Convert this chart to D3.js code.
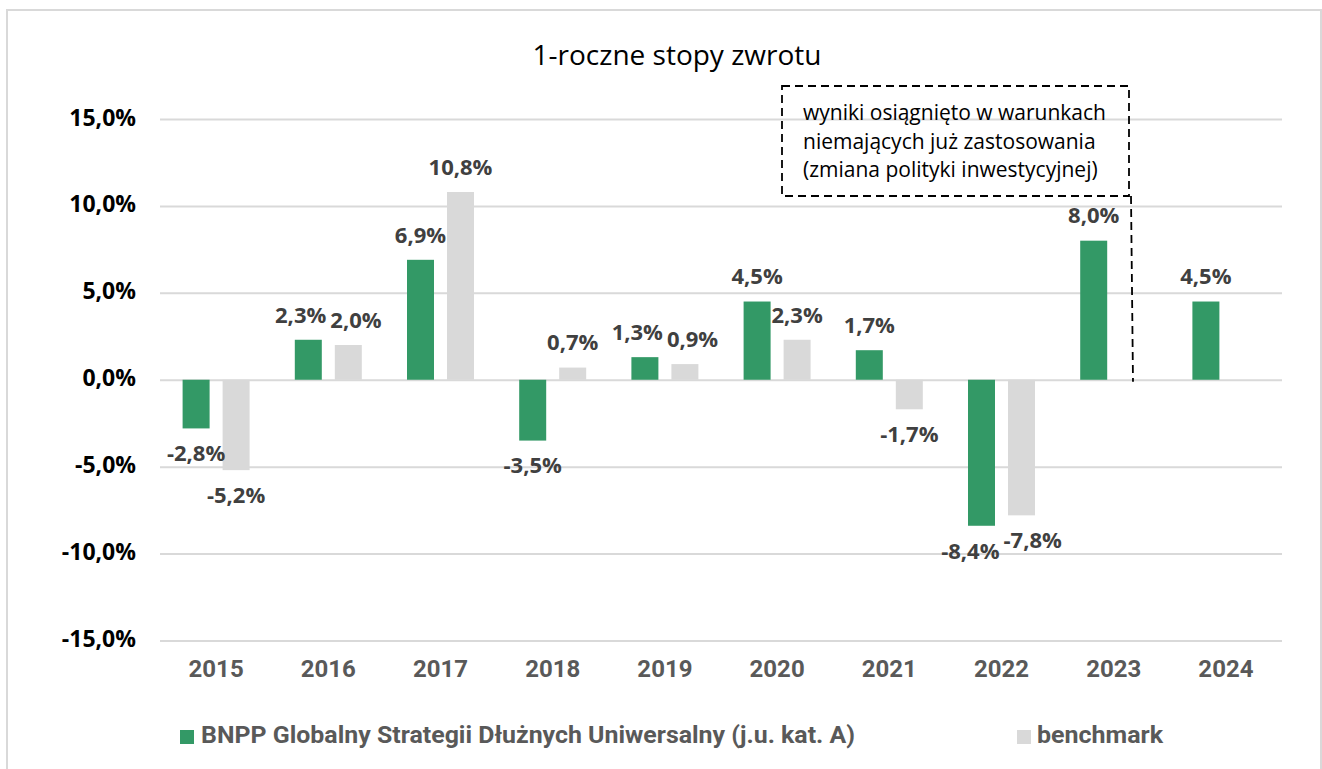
<!DOCTYPE html>
<html>
<head>
<meta charset="utf-8">
<script src="https://cdn.jsdelivr.net/npm/d3@7"></script>
<style>
  html, body { margin: 0; padding: 0; background: #fff; }
  svg { display: block; }
</style>
</head>
<body>
<svg id="chart" width="1322" height="769"></svg>
<script>
// ---- data ----
const years = ["2015","2016","2017","2018","2019","2020","2021","2022","2023","2024"];
const fundValues = [-2.8, 2.3, 6.9, -3.5, 1.3, 4.5, 1.7, -8.4, 8.0, 4.5];
const benchmarkValues = [-5.2, 2.0, 10.8, 0.7, 0.9, 2.3, -1.7, -7.8, null, null];
const yTicks = [-15, -10, -5, 0, 5, 10, 15];
const seriesNames = ["BNPP Globalny Strategii Dłużnych Uniwersalny (j.u. kat. A)", "benchmark"];
const titleText = "1-roczne stopy zwrotu";
const noteLines = ["wyniki osiągnięto w warunkach", "niemających już zastosowania", "(zmiana polityki inwestycyjnej)"];

// ---- setup ----
const svg = d3.select("#chart");
const colors = { fund: "#339966", bench: "#d9d9d9" };
const grid = "#d9d9d9";
const pl = d3.formatLocale({ decimal: ",", thousands: " ", grouping: [3], currency: ["", " zł"], minus: "-" });
const fmt = v => pl.format(".1f")(v) + "%";

const plot = { left: 160, right: 1282, top: 119, bottom: 640.5 };

const x = d3.scaleBand().domain(years).range([plot.left, plot.right]).padding(0);
const xSub = d3.scaleBand().domain(["fund", "bench"]).range([0, x.bandwidth()])
  .paddingInner(0.325).paddingOuter(0.565);
const y = d3.scaleLinear().domain([-15, 15]).range([plot.bottom, plot.top]);

// outer border
svg.append("rect").attr("x", 7).attr("y", 10).attr("width", 1314).attr("height", 780)
  .attr("fill", "none").attr("stroke", grid).attr("stroke-width", 2);

// title
svg.append("text").attr("x", 677).attr("y", 65).attr("text-anchor", "middle")
  .attr("font-family", "'Open Sans', sans-serif").attr("font-size", 28)
  .attr("fill", "#000")
  .text(titleText);

// y axis with gridlines
const yAxis = d3.axisLeft(y).tickValues(yTicks).tickFormat(fmt)
  .tickSizeInner(-(plot.right - plot.left)).tickSizeOuter(0).tickPadding(24);
const gy = svg.append("g").attr("transform", `translate(${plot.left},0)`).call(yAxis);
gy.select(".domain").remove();
gy.selectAll(".tick line").attr("stroke", grid).attr("stroke-width", 2);
gy.selectAll(".tick text")
  .attr("font-family", "'Open Sans', sans-serif").attr("font-weight", 700)
  .attr("font-size", 23).attr("fill", "#000").attr("dy", 6);

// x axis labels
const xAxis = d3.axisBottom(x).tickSize(0).tickPadding(0);
const gx = svg.append("g").attr("transform", `translate(0,${plot.bottom})`).call(xAxis);
gx.select(".domain").remove();
gx.selectAll(".tick text")
  .attr("font-family", "Roboto, sans-serif").attr("font-weight", 700)
  .attr("font-size", 24).attr("fill", "#595959").attr("dy", 0).attr("y", 36.5);

// bars
const rows = [];
years.forEach((yr, i) => {
  rows.push({ year: yr, key: "fund", v: fundValues[i] });
  if (benchmarkValues[i] !== null) rows.push({ year: yr, key: "bench", v: benchmarkValues[i] });
});

svg.append("g").selectAll("rect").data(rows).join("rect")
  .attr("x", d => x(d.year) + xSub(d.key))
  .attr("width", xSub.bandwidth())
  .attr("y", d => Math.min(y(d.v), y(0)))
  .attr("height", d => Math.abs(y(d.v) - y(0)))
  .attr("fill", d => colors[d.key]);

// data labels
const lg = svg.append("g");
const labels = lg.selectAll("text").data(rows).join("text")
  .attr("text-anchor", "middle")
  .attr("font-family", "'Open Sans', sans-serif").attr("font-weight", 700)
  .attr("font-size", 22).attr("fill", "#404040")
  .text(d => fmt(d.v));

rows.forEach(d => {
  d.cx = x(d.year) + xSub(d.key) + xSub.bandwidth() / 2;
  d.cy = d.v >= 0 ? y(d.v) - 25 : y(d.v) + 25;
});
labels.each(function (d) { d.w = this.getComputedTextLength(); });
// simple overlap avoidance within each year
years.forEach(yr => {
  const pair = rows.filter(r => r.year === yr);
  if (pair.length === 2) {
    const [a, b] = pair;
    const hOver = (a.w / 2 + b.w / 2 + 4) - (b.cx - a.cx);
    const vOver = Math.abs(a.cy - b.cy) < 18;
    if (hOver > 0 && vOver) { a.cx -= hOver / 2; b.cx += hOver / 2; }
  }
});
labels.attr("x", d => d.cx).attr("y", d => d.cy + 7.8);

// annotation box
svg.append("rect").attr("x", 782).attr("y", 86).attr("width", 347).attr("height", 110)
  .attr("fill", "none").attr("stroke", "#000").attr("stroke-width", 1.8)
  .attr("stroke-dasharray", "8,5");
svg.append("line").attr("x1", 1131).attr("x2", 1133).attr("y1", 196).attr("y2", y(0) + 2)
  .attr("stroke", "#000").attr("stroke-width", 1.8).attr("stroke-dasharray", "8,5");
svg.append("g").selectAll("text").data(noteLines).join("text")
  .attr("x", 803).attr("y", (d, i) => 120 + i * 28.5)
  .attr("font-family", "'Open Sans', sans-serif").attr("font-size", 21).attr("fill", "#000")
  .text(d => d);

// legend
const legendItems = [
  { name: seriesNames[0], color: colors.fund, sx: 180, tx: 201, w: 654 },
  { name: seriesNames[1], color: colors.bench, sx: 1017, tx: 1037, w: 126 }
];
const lgd = svg.append("g");
legendItems.forEach(it => {
  lgd.append("rect").attr("x", it.sx).attr("y", 730).attr("width", 14).attr("height", 14).attr("fill", it.color);
  lgd.append("text").attr("x", it.tx).attr("y", 743)
    .attr("font-family", "Roboto, sans-serif").attr("font-weight", 700)
    .attr("font-size", 24).attr("fill", "#595959")
    .attr("textLength", it.w).attr("lengthAdjust", "spacingAndGlyphs")
    .text(it.name);
});
</script>
</body>
</html>
